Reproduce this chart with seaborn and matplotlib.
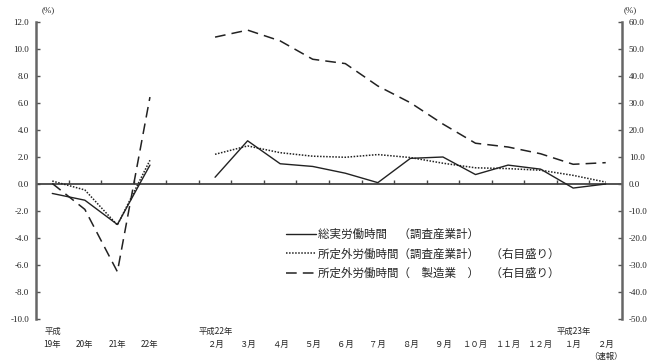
import numpy as np
import pandas as pd
import matplotlib
matplotlib.use("Agg")
import matplotlib.pyplot as plt
import seaborn as sns

sns.set_theme(style="white")
plt.rcParams['font.family'] = ['Noto Sans CJK JP', 'DejaVu Sans']

# ---- data ----
categories = ['19年', '20年', '21年', '22年', '',
              '２月', '３月', '４月', '５月', '６月', '７月', '８月', '９月',
              '１０月', '１１月', '１２月', '１月', '２月']
segments = [0, 0, 0, 0, -1, 1, 1, 1, 1, 1, 1, 1, 1, 1, 1, 1, 1, 1]
total_hours = [-0.7, -1.2, -3.0, 1.4, np.nan,
               0.5, 3.2, 1.5, 1.3, 0.8, 0.1, 1.9, 2.0, 0.7, 1.4, 1.1, -0.3, 0.0]
overtime_all = [1.1, -2.2, -15.2, 8.8, np.nan,
                11.0, 14.1, 11.6, 10.3, 9.9, 10.9, 9.8, 7.7, 6.0, 5.7, 5.1, 3.2, 0.7]
overtime_mfg = [0.2, -9.4, -32.5, 32.2, np.nan,
                54.4, 57.0, 53.0, 46.2, 44.6, 36.3, 30.1, 22.2, 15.1, 13.7, 11.2, 7.3, 7.9]
era_labels = {0: '平成', 5: '平成22年', 16: '平成23年'}
note_label = {17: '（速報）'}
left_ticks = np.arange(-10, 12.1, 2)
right_ticks = np.arange(-50, 60.1, 10)
legend_labels = ['総実労働時間　（調査産業計）',
                 '所定外労働時間（調査産業計）　（右目盛り）',
                 '所定外労働時間（　製造業　）　（右目盛り）']

df = pd.DataFrame({'x': np.arange(len(categories)), 'seg': segments,
                   'total': total_hours, 'ot_all': overtime_all, 'ot_mfg': overtime_mfg})
df = df[df['seg'] >= 0]

W, H = 660, 364
fig = plt.figure(figsize=(W / 100, H / 100), dpi=100)
ax = fig.add_axes([36 / W, 1 - 319 / H, (622 - 36) / W, (319 - 22) / H])
ax2 = ax.twinx()

line_col = '#222222'
for s, d in df.groupby('seg'):
    sns.lineplot(data=d, x='x', y='total', ax=ax, color=line_col, lw=1.0, legend=False)
    sns.lineplot(data=d, x='x', y='ot_all', ax=ax2, color=line_col, lw=1.1, legend=False)
    sns.lineplot(data=d, x='x', y='ot_mfg', ax=ax2, color=line_col, lw=1.1, legend=False)

lines2 = ax2.get_lines()
# dotted for all industries, dashed for manufacturing
for i, ln in enumerate(lines2):
    if i % 2 == 0:
        ln.set_linestyle((0, (1.0, 1.0)))
    else:
        ln.set_linestyle((0, (7, 4)))

n = len(categories)
ax.set_xlim(-0.5, n - 0.5)
ax.set_ylim(-10, 12)
ax2.set_ylim(-50, 60)

# zero line with category boundary ticks
ax.axhline(0, color='#444444', lw=1.3, zorder=1)
bounds = np.arange(n - 1) + 0.5
ax.vlines(bounds, 0, 0.28, color='#444444', lw=1.0)

# y ticks
ax.set_yticks(left_ticks)
ax.set_yticklabels([f'{v:.1f}' for v in left_ticks], fontsize=6.5,
                   family='Liberation Serif', color='#222222')
ax2.set_yticks(right_ticks)
ax2.set_yticklabels([f'{v:.1f}' for v in right_ticks], fontsize=6.5,
                    family='Liberation Serif', color='#222222')
ax.tick_params(axis='y', direction='in', length=3, width=1, color='#555555', pad=5, left=True)
ax2.tick_params(axis='y', direction='in', length=3, width=1, color='#555555', pad=5, right=True)
for a in (ax, ax2):
    a.set_ylabel('')
    a.set_xlabel('')

# x labels
ax.set_xticks(np.arange(n))
ax.set_xticklabels(categories, fontsize=6)
ax.tick_params(axis='x', length=0, pad=15)
for i, t in era_labels.items():
    ax.annotate(t, xy=(i - 0.5 if i > 0 else i - 0.25, 0), xycoords=('data', 'axes fraction'),
                xytext=(0, -5.5), textcoords='offset points', fontsize=6,
                ha='left', va='top')
for i, t in note_label.items():
    ax.annotate(t, xy=(i, 0), xycoords=('data', 'axes fraction'),
                xytext=(0, -23.5), textcoords='offset points', fontsize=6,
                ha='center', va='top')

# spines
for a in (ax, ax2):
    for sp in ['top', 'bottom']:
        a.spines[sp].set_visible(False)
ax.spines['left'].set_color('#666666')
ax.spines['left'].set_linewidth(1.8)
ax2.spines['right'].set_color('#666666')
ax2.spines['right'].set_linewidth(1.8)
ax2.spines['left'].set_visible(False)
ax.spines['right'].set_visible(False)
ax.grid(False)
ax2.grid(False)

fig.text(48 / W, 1 - 10 / H, '(%)', fontsize=6.5, ha='center', va='center', family='Liberation Serif')
fig.text(630 / W, 1 - 10 / H, '(%)', fontsize=6.5, ha='center', va='center', family='Liberation Serif')

handles = [ax.get_lines()[0], lines2[0], lines2[1]]
fig.legend(handles, legend_labels, loc='upper left',
           bbox_to_anchor=(286 / W, 1 - 228 / H), bbox_transform=fig.transFigure,
           frameon=False, fontsize=8.3, handlelength=2.6, handletextpad=0.2,
           labelspacing=0.55, borderpad=0, borderaxespad=0)

fig.savefig('out.png', dpi=100)
